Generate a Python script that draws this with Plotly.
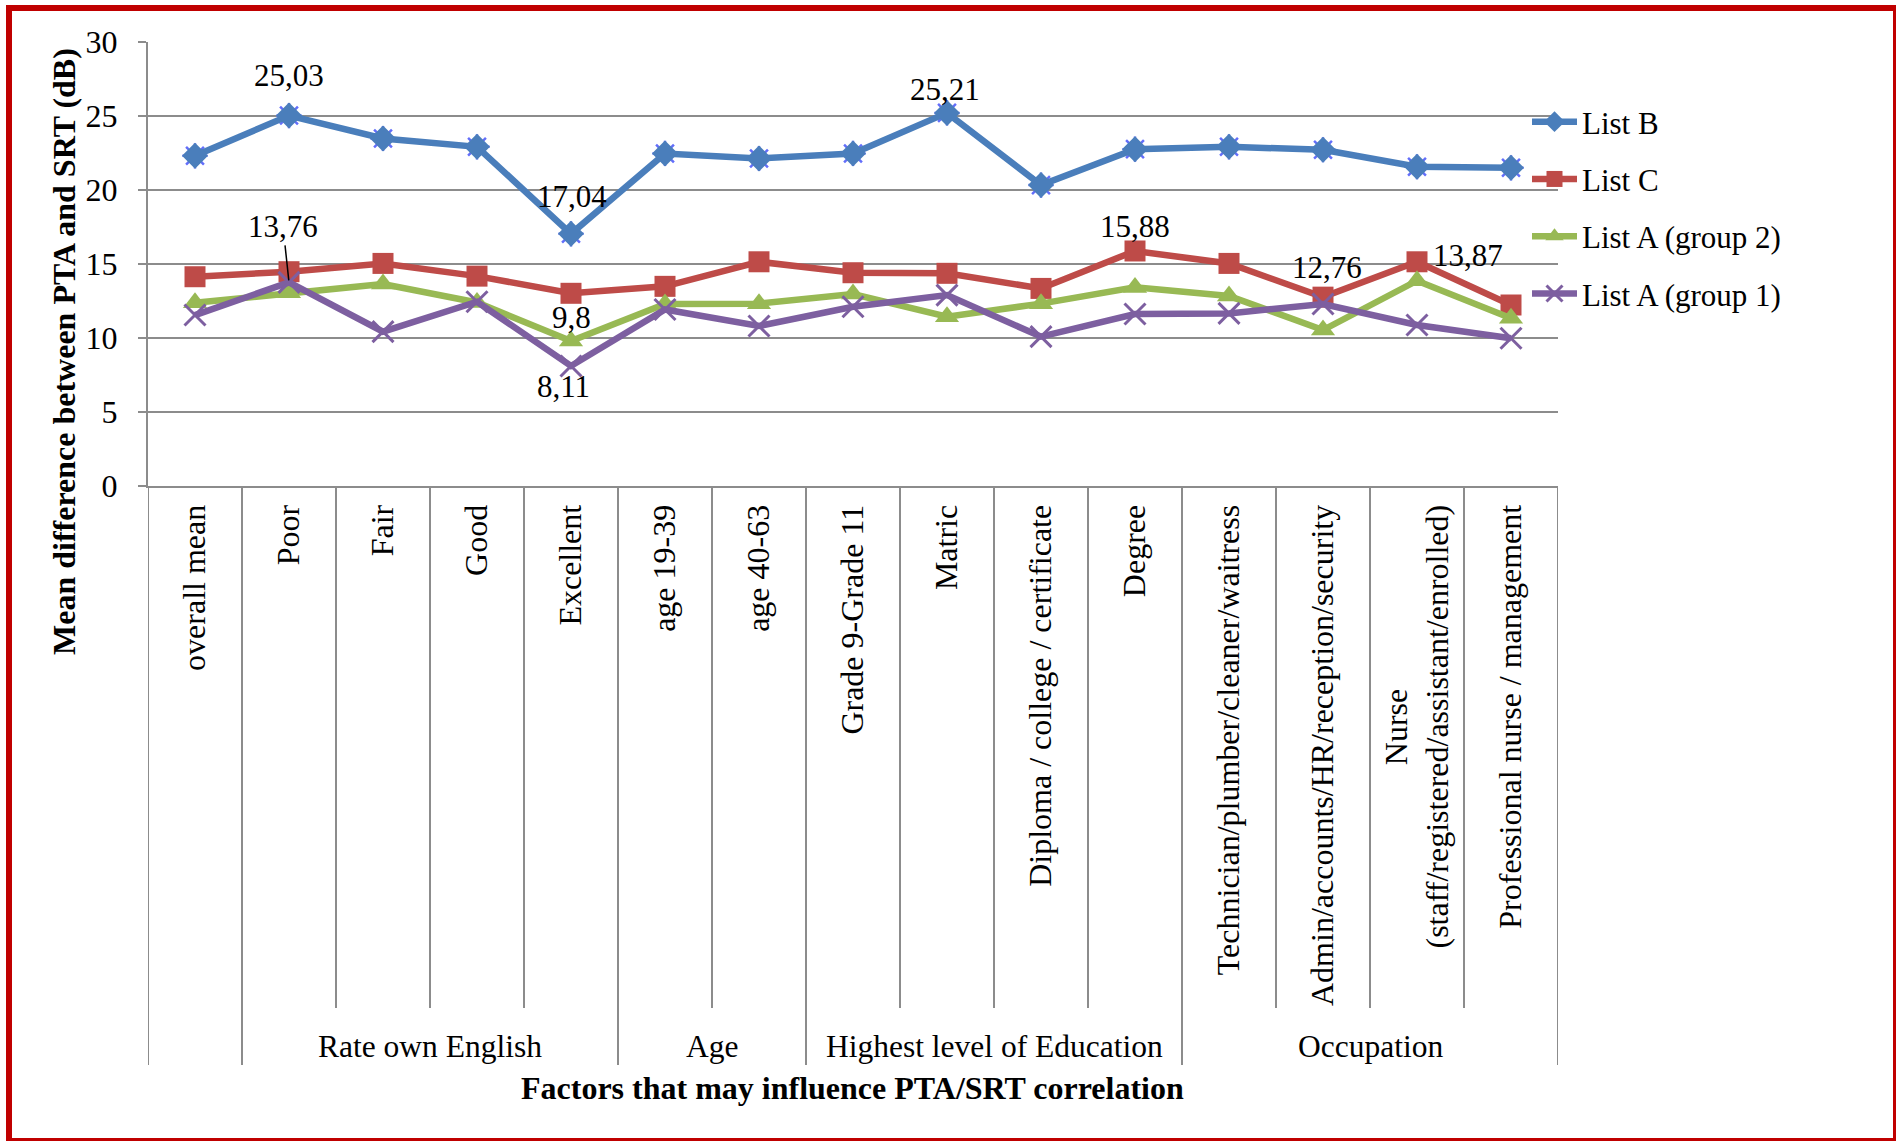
import plotly.graph_objects as go

NBSP = "\u00a0"

# Category labels along the horizontal axis
categories = [
    "overall mean", "Poor", "Fair", "Good", "Excellent",
    "age 19-39", "age 40-63",
    "Grade 9-Grade 11", "Matric", "Diploma / college / certificate", "Degree",
    "Technician/plumber/cleaner/waitress",
    "Admin/accounts/HR/reception/security",
    "Nurse" + NBSP * 23 + "<br>(staff/registered/assistant/enrolled)",
    "Professional nurse / management",
]

# Grouping of the categories (first category stands alone)
group_names = ["", "Rate own English", "Age", "Highest level of Education", "Occupation"]
group_sizes = [1, 4, 2, 4, 4]

# Mean difference between PTA and SRT (dB)
list_b = [22.31, 25.03, 23.48, 22.92, 17.04, 22.47, 22.13, 22.47, 25.21, 20.33,
          22.76, 22.92, 22.72, 21.57, 21.50]
list_c = [14.14, 14.48, 15.04, 14.18, 13.02, 13.49, 15.15, 14.41, 14.37, 13.35,
          15.88, 15.04, 12.76, 15.15, 12.23]
list_a_g2 = [12.38, 13.06, 13.65, 12.40, 9.8, 12.30, 12.32, 12.97, 11.44, 12.32,
             13.42, 12.84, 10.54, 13.87, 11.33]
list_a_g1 = [11.55, 13.76, 10.43, 12.45, 8.11, 11.93, 10.81, 12.11, 12.90, 10.09,
             11.62, 11.66, 12.30, 10.88, 9.98]

y_ticks = [0, 5, 10, 15, 20, 25, 30]

FONT = "Liberation Serif"
GRID = "#8c8c8c"
W, H = 1896, 1141
ML, MR, MT, MB = 148, 338, 42, 655
PW, PH = W - ML - MR, H - MT - MB

x = list(range(1, len(categories) + 1))


def px_to_paper_x(px):
    return (px - ML) / PW


def px_to_paper_y(py):
    return (H - MB - py) / PH


fig = go.Figure()

# cyan asterisk behind the List B diamonds
fig.add_trace(go.Scatter(
    x=x, y=list_b, mode="markers", showlegend=False, hoverinfo="skip",
    marker=dict(symbol="asterisk-open", size=21, line=dict(color="#4BACC6", width=2.5)),
))

series = [
    ("List B", list_b, "#4A7EBB", "diamond", 20),
    ("List C", list_c, "#BE4B48", "square", 21),
    ("List A (group 2)", list_a_g2, "#98B954", "triangle-up", 21),
    ("List A (group 1)", list_a_g1, "#7D5FA0", "x-thin-open", 21),
]
for name, vals, color, symbol, size in series:
    marker = dict(symbol=symbol, size=size, color=color)
    if symbol == "x-thin-open":
        marker["line"] = dict(color=color, width=3)
    fig.add_trace(go.Scatter(
        x=x, y=vals, name=name, mode="lines+markers", legendgroup=name,
        line=dict(color=color, width=6.5), marker=marker,
    ))

# value labels on selected points: (values, index, xshift, yshift)
value_labels = [
    (list_b, 1, 0, 40),
    (list_b, 4, 1, 37),
    (list_b, 8, -2, 23),
    (list_c, 10, 0, 24),
    (list_c, 12, 4, 30),
    (list_a_g2, 13, 51, 25),
    (list_a_g2, 4, 0, 23),
    (list_a_g1, 4, -8, -21),
]


def fmt(v):
    return f"{v:g}".replace(".", ",")


annotations = []
for vals, i, dx, dy in value_labels:
    annotations.append(dict(
        x=x[i], y=vals[i], xref="x", yref="y", text=fmt(vals[i]), showarrow=False,
        xshift=dx, yshift=dy, font=dict(family=FONT, size=31, color="black"),
    ))
# label with a leader line
annotations.append(dict(
    x=x[1], y=list_a_g1[1], xref="x", yref="y", text=fmt(list_a_g1[1]),
    showarrow=True, arrowhead=0, arrowwidth=1.5, arrowcolor="black",
    ax=-6, ay=-56, standoff=2,
    font=dict(family=FONT, size=31, color="black"),
))

# group labels and divider lines below the category labels
shapes = []
start = 0.5
for gname, gsize in zip(group_names, group_sizes):
    end = start + gsize
    if gname:
        annotations.append(dict(
            x=(start + end) / 2, y=px_to_paper_y(1046), xref="x", yref="paper",
            text=gname, showarrow=False, yanchor="middle",
            font=dict(family=FONT, size=31.5, color="black"),
        ))
    start = end

group_edges = [0.5]
for gsize in group_sizes:
    group_edges.append(group_edges[-1] + gsize)
for k in range(len(categories) + 1):
    edge = k + 0.5
    bottom = 1065 if edge in group_edges else 1008
    shapes.append(dict(
        type="line", xref="x", yref="paper", x0=edge, x1=edge,
        y0=0, y1=px_to_paper_y(bottom), line=dict(color=GRID, width=2),
    ))

# axis titles
annotations.append(dict(
    x=px_to_paper_x(852), y=px_to_paper_y(1088), xref="paper", yref="paper",
    text="<b>Factors that may influence PTA/SRT correlation</b>", showarrow=False,
    yanchor="middle", font=dict(family=FONT, size=32, color="black"),
))
annotations.append(dict(
    x=px_to_paper_x(64), y=px_to_paper_y(352), xref="paper", yref="paper",
    text="<b>Mean difference between PTA and SRT (dB)</b>", showarrow=False,
    textangle=-90, xanchor="center", yanchor="middle",
    font=dict(family=FONT, size=32, color="black"),
))

# outer red frame
shapes.append(dict(
    type="rect", xref="paper", yref="paper",
    x0=px_to_paper_x(9), x1=px_to_paper_x(1896),
    y0=px_to_paper_y(1141), y1=px_to_paper_y(8),
    line=dict(color="#C00000", width=6), fillcolor="rgba(0,0,0,0)",
))

fig.update_layout(
    width=W, height=H,
    margin=dict(l=ML, r=MR, t=MT, b=MB, autoexpand=False),
    paper_bgcolor="white", plot_bgcolor="white",
    font=dict(family=FONT, size=31, color="black"),
    showlegend=True,
    legend=dict(
        x=px_to_paper_x(1527), y=px_to_paper_y(95), xanchor="left", yanchor="top",
        font=dict(family=FONT, size=31, color="black"),
        tracegroupgap=14, itemwidth=45, bgcolor="rgba(0,0,0,0)",
    ),
    annotations=annotations,
    shapes=shapes,
)

fig.update_xaxes(
    range=[0.5, len(categories) + 0.5], tickmode="array", tickvals=x, ticktext=categories,
    tickangle=-90, ticks="", showgrid=False, zeroline=False,
    showline=True, linecolor=GRID, linewidth=2,
    tickfont=dict(family=FONT, size=32, color="black"),
    ticklabelstandoff=4, automargin=False,
)
fig.update_yaxes(
    range=[0, 30], tickmode="array", tickvals=y_ticks, ticks="outside", ticklen=8,
    tickwidth=2, tickcolor=GRID, showline=True, linecolor=GRID, linewidth=2,
    showgrid=True, gridcolor=GRID, gridwidth=2, zeroline=False,
    tickfont=dict(family=FONT, size=32, color="black"),
    ticklabelstandoff=14, automargin=False,
)

fig.write_html("out.html")
